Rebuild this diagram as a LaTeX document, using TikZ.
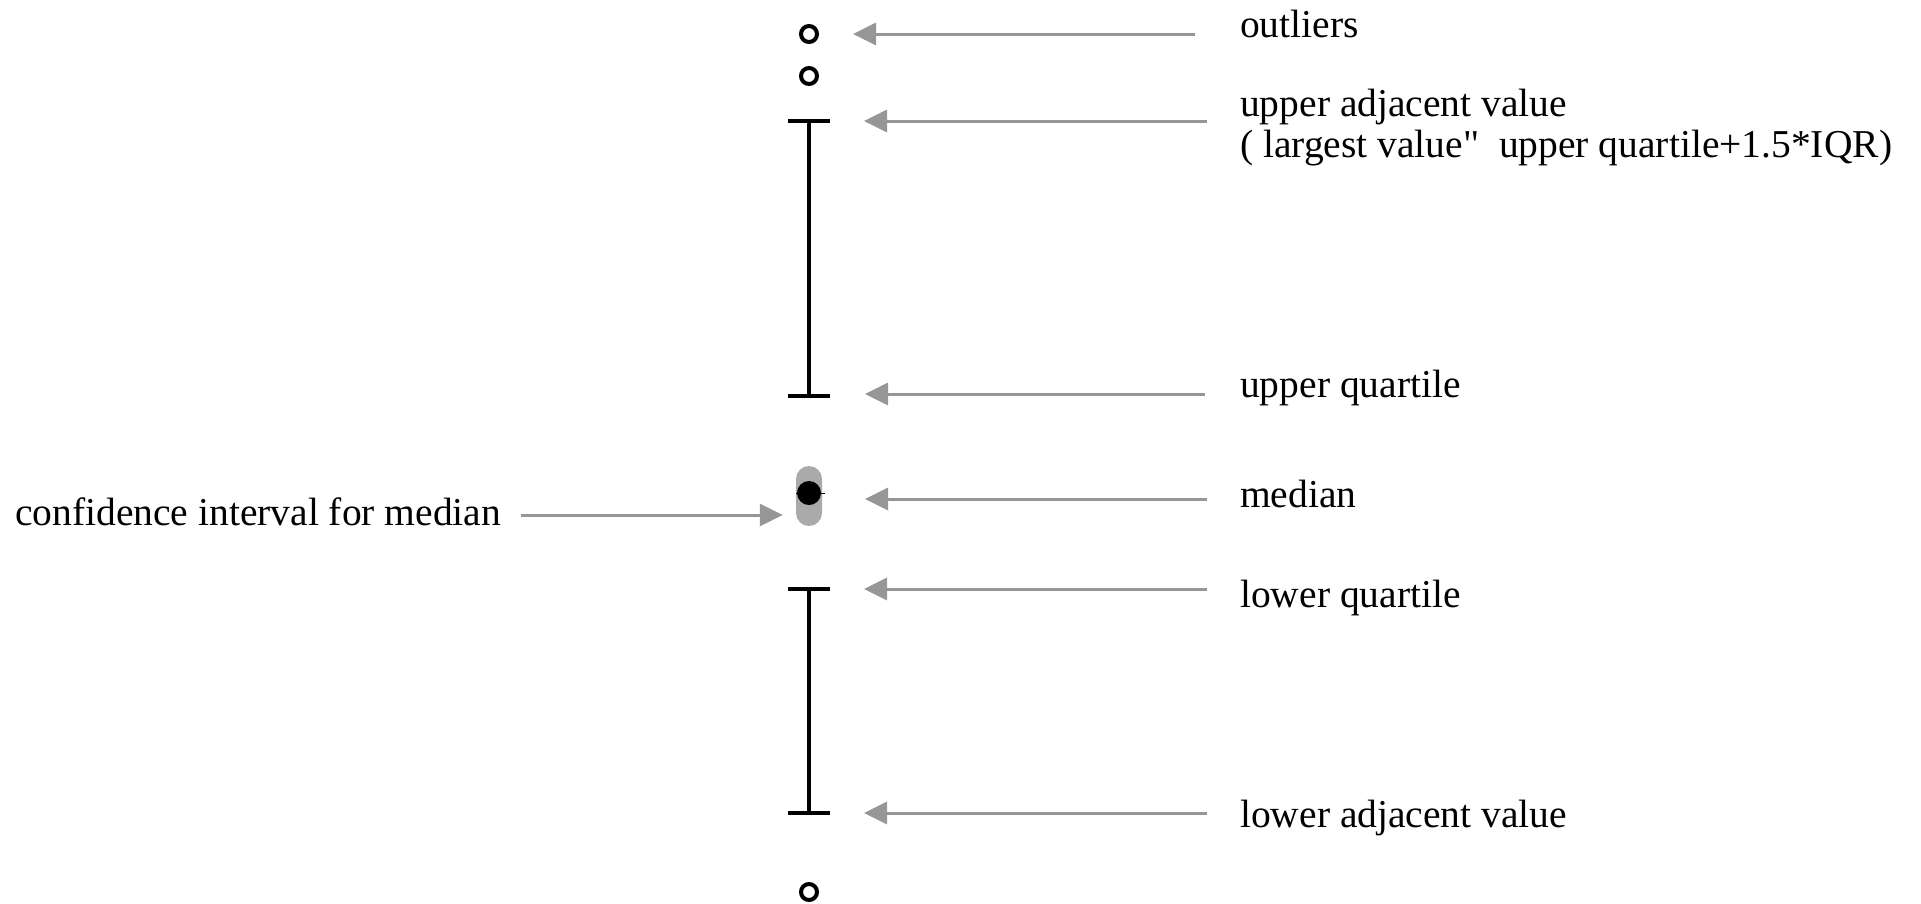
\documentclass[tikz,border=0pt]{standalone}
\usepackage{fontspec}
\setmainfont{Liberation Serif}[Ligatures=TeXOff]
\usetikzlibrary{arrows.meta,calc}
\definecolor{arrowgrey}{RGB}{150,150,150}
\definecolor{cigrey}{RGB}{170,170,170}

\tikzset{
  pointer/.style={draw=arrowgrey, line width=3pt, -{Triangle[length=23pt,width=22pt]}},
  lbl/.style={anchor=base west, inner sep=0pt, align=left,
    font=\fontsize{39.5}{41}\selectfont},
  outlier/.style={circle, draw, line width=4pt, minimum size=16pt, inner sep=0pt},
  whisker/.style={line width=4pt},
}

\begin{document}
\begin{tikzpicture}[x=1pt,y=-1pt]
\useasboundingbox (0,0) rectangle (1921,903);

% the box plot
\node[outlier] (out1) at (809,34) {};
\node[outlier] (out2) at (809,76) {};
\node[outlier] (out3) at (809,892) {};
\coordinate (uav) at (809,121);
\coordinate (uq) at (809,396);
\coordinate (lq) at (809,589);
\coordinate (lav) at (809,813);
\draw[whisker] (uav) -- (uq);
\draw[whisker] (lq) -- (lav);
\foreach \c in {uav,uq,lq,lav}
  \draw[whisker] ([xshift=-21pt]\c) -- ([xshift=21pt]\c);
\node[rectangle, rounded corners=13pt, fill=cigrey, minimum width=26pt,
  minimum height=60pt] (ci) at (809,496) {};
\draw[line width=1pt] (796,493) -- (825,493);
\node[circle, fill=black, minimum size=24pt, inner sep=0pt] (med) at (809,493) {};

% labels (base of a two-line label is its last line)
\node[lbl] (outtxt) at (1240,37) {outliers};
\node[lbl] (uavtxt) at (1240,157) {upper adjacent value\\( largest value"\ \ upper quartile+1.5*IQR)};
\node[lbl] (uqtxt) at (1240,397) {upper quartile};
\node[lbl] (medtxt) at (1240,507) {median};
\node[lbl] (lqtxt) at (1240,607) {lower quartile};
\node[lbl] (lavtxt) at (1240,827) {lower adjacent value};
\node[lbl] (citxt) at (15,525) {confidence interval for median};

% arrows
\draw[pointer] ($(out1 -| outtxt.west)+(-45,0)$) -- ([xshift=44pt]out1.center);
\draw[pointer] ($(uav -| uavtxt.west)+(-33,0)$) -- ([xshift=55pt]uav);
\draw[pointer] ($(uq -| uqtxt.west)+(-35,-2)$) -- ([xshift=56pt,yshift=2pt]uq);
\draw[pointer] ($(med -| medtxt.west)+(-33,6)$) -- ([xshift=56pt,yshift=-6pt]med.center);
\draw[pointer] ($(lq -| lqtxt.west)+(-33,0)$) -- ([xshift=55pt]lq);
\draw[pointer] ($(lav -| lavtxt.west)+(-33,0)$) -- ([xshift=55pt]lav);
\draw[pointer] ($(citxt.base east)+(20,-10)$) -- ($(citxt.base east -| ci.west)+(-13,-10)$);
\end{tikzpicture}
\end{document}
